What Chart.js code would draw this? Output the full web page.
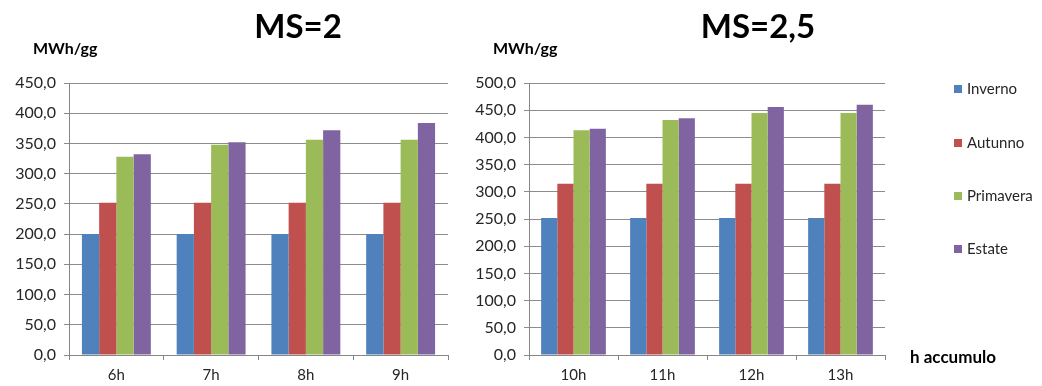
<!DOCTYPE html>
<html>
<head>
<meta charset="utf-8">
<script src="https://cdn.jsdelivr.net/npm/chart.js@4.4.1/dist/chart.umd.min.js"></script>
<style>
  html, body { margin: 0; padding: 0; background: #fff; }
  #wrap { position: relative; width: 1042px; height: 386px; overflow: hidden; font-family: Lato, "Open Sans", sans-serif; }
  .cv { position: absolute; top: 0; }
  .title { position: absolute; font-weight: bold; font-size: 33px; color: #000; transform: translateX(-50%); white-space: nowrap; }
  .unit { position: absolute; font-weight: bold; font-size: 16px; color: #000; }
  .legend { position: absolute; left: 954px; top: 0; }
  .legend .item { position: absolute; white-space: nowrap; font-size: 15px; color: #262626; line-height: 16px; }
  .legend .box { display: inline-block; width: 8px; height: 8px; margin-right: 5px; vertical-align: 1px; }
  .xlab { position: absolute; font-weight: bold; font-size: 17px; color: #000; }
</style>
</head>
<body>
<div id="wrap">
  <canvas id="c1" class="cv" width="460" height="386" style="left:0;width:460px;height:386px"></canvas>
  <canvas id="c2" class="cv" width="500" height="386" style="left:460px;width:500px;height:386px"></canvas>
  <div class="title" style="left:298px;top:5px">MS=2</div>
  <div class="title" style="left:758px;top:5px">MS=2,5</div>
  <div class="unit" style="left:33px;top:38px">MWh/gg</div>
  <div class="unit" style="left:493px;top:38px">MWh/gg</div>
  <div class="legend" id="legend"></div>
  <div class="xlab" style="left:910px;top:346px">h accumulo</div>
</div>
<script>
// Seasons and their colours
const seasons = ['Inverno', 'Autunno', 'Primavera', 'Estate'];
const seasonColors = ['#4F81BD', '#C0504D', '#9BBB59', '#8064A2'];

// MS = 2 : daily energy (MWh/gg) per storage hours
const hoursMS2 = ['6h', '7h', '8h', '9h'];
const invernoMS2   = [200, 200, 200, 200];
const autunnoMS2   = [252, 252, 252, 252];
const primaveraMS2 = [328, 348, 356, 356];
const estateMS2    = [332, 352, 372, 384];

// MS = 2,5 : daily energy (MWh/gg) per storage hours
const hoursMS25 = ['10h', '11h', '12h', '13h'];
const invernoMS25   = [252, 252, 252, 252];
const autunnoMS25   = [315, 315, 315, 315];
const primaveraMS25 = [413, 432, 445, 445];
const estateMS25    = [416, 435, 456, 460];

const fmt = v => v.toFixed(1).replace('.', ',');

function datasets(series) {
  return series.map((vals, i) => ({
    label: seasons[i],
    data: vals,
    backgroundColor: seasonColors[i],
    borderWidth: 0,
    categoryPercentage: 4 / 5.5,
    barPercentage: 1.0
  }));
}

function makeChart(id, labels, series, yMax, plotRight) {
  const tickFont = { family: 'Lato, "Open Sans", sans-serif', size: 16 };
  return new Chart(document.getElementById(id), {
    type: 'bar',
    data: { labels, datasets: datasets(series) },
    options: {
      responsive: false,
      animation: false,
      devicePixelRatio: 1,
      layout: { padding: { top: 83, right: plotRight, bottom: 0, left: 0 } },
      plugins: { legend: { display: false }, tooltip: { enabled: false } },
      scales: {
        x: {
          grid: { display: true, drawOnChartArea: false, drawTicks: true, tickLength: 5, color: '#868686', offset: true },
          border: { color: '#868686' },
          ticks: { color: '#262626', font: { family: tickFont.family, size: 15 }, padding: 6, maxRotation: 0 },
          afterFit: s => { s.height = 31; }
        },
        y: {
          min: 0, max: yMax,
          grid: { color: '#8c8c8c', tickLength: 5, drawTicks: true },
          border: { color: '#868686' },
          ticks: { stepSize: 50, color: '#262626', font: tickFont, padding: 8, callback: v => fmt(v) },
          afterFit: s => { s.width = 69; }
        }
      }
    }
  });
}

makeChart('c1', hoursMS2, [invernoMS2, autunnoMS2, primaveraMS2, estateMS2], 450, 12);
makeChart('c2', hoursMS25, [invernoMS25, autunnoMS25, primaveraMS25, estateMS25], 500, 500 - 425);

// Legend shared by both charts
const legend = document.getElementById('legend');
const legendTops = [80, 134, 187, 240];
seasons.forEach((s, i) => {
  const d = document.createElement('div');
  d.className = 'item';
  d.style.top = legendTops[i] + 'px';
  d.innerHTML = '<span class="box" style="background:' + seasonColors[i] + '"></span>' + s;
  legend.appendChild(d);
});
</script>
</body>
</html>
